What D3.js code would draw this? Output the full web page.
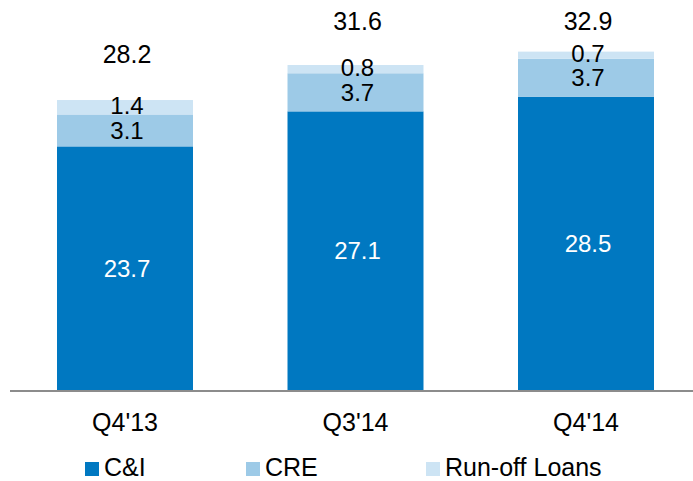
<!DOCTYPE html>
<html>
<head>
<meta charset="utf-8">
<script src="https://cdn.jsdelivr.net/npm/d3@7"></script>
<style>
  body { margin: 0; background: #fff; }
  text { font-family: Arial, "Liberation Sans", sans-serif; }
</style>
</head>
<body>
<div id="chart"></div>
<script>
var quarters = ["Q4'13", "Q3'14", "Q4'14"];
var seriesNames = ['C&I', 'CRE', 'Run-off Loans'];
var cni = [23.7, 27.1, 28.5];
var cre = [3.1, 3.7, 3.7];
var runoff = [1.4, 0.8, 0.7];
var totals = [28.2, 31.6, 32.9];

var width = 693, height = 481;
var colors = ['#0078c1', '#9dcae7', '#cde4f4'];

var svg = d3.select('#chart').append('svg')
  .attr('width', width)
  .attr('height', height);

var rows = quarters.map(function (q, i) {
  return { quarter: q, 'C&I': cni[i], 'CRE': cre[i], 'Run-off Loans': runoff[i], total: totals[i] };
});

var stack = d3.stack().keys(seriesNames)(rows);

var x = d3.scaleBand()
  .domain(quarters)
  .range([9.75, 701.25])
  .paddingInner(0.41)
  .paddingOuter(0.205);

var y = d3.scaleLinear()
  .domain([0, 35])
  .range([390.5, 30]);

var layer = svg.selectAll('.layer')
  .data(stack)
  .enter().append('g')
  .attr('class', 'layer')
  .attr('fill', function (d, i) { return colors[i]; });

layer.selectAll('rect')
  .data(function (d) { return d; })
  .enter().append('rect')
  .attr('x', function (d) { return x(d.data.quarter); })
  .attr('width', x.bandwidth())
  .attr('y', function (d) { return y(d[1]); })
  .attr('height', function (d) { return y(d[0]) - y(d[1]); });

// segment labels (the small run-off ones sit a touch higher)
layer.selectAll('text')
  .data(function (d, i) { return d.map(function (p) { return { p: p, s: i }; }); })
  .enter().append('text')
  .attr('x', function (d) { return x(d.p.data.quarter) + x.bandwidth() / 2 + 2; })
  .attr('y', function (d) { return (y(d.p[0]) + y(d.p[1])) / 2 - (d.s === 2 ? 2 : 0); })
  .attr('dy', '0.35em')
  .attr('text-anchor', 'middle')
  .attr('font-size', 24)
  .attr('fill', function (d) { return d.s === 0 ? '#fff' : '#000'; })
  .text(function (d) { return (d.p[1] - d.p[0]).toFixed(1); });

// totals
svg.selectAll('.total')
  .data(rows)
  .enter().append('text')
  .attr('class', 'total')
  .attr('x', function (d) { return x(d.quarter) + x.bandwidth() / 2 + 2; })
  .attr('y', function (d) { return Math.max(y(d.total) - 37, 30); })
  .attr('text-anchor', 'middle')
  .attr('font-size', 25)
  .attr('fill', '#000')
  .text(function (d) { return d.total.toFixed(1); });

// baseline
svg.append('line')
  .attr('x1', 10).attr('x2', width)
  .attr('y1', y(0) + 0.5).attr('y2', y(0) + 0.5)
  .attr('stroke', '#8c8c8c')
  .attr('stroke-width', 2);

// category axis
var xAxis = d3.axisBottom(x).tickSize(0).tickPadding(0);
var gx = svg.append('g')
  .attr('transform', 'translate(0,' + 431 + ')')
  .call(xAxis);
gx.select('.domain').remove();
gx.selectAll('text')
  .attr('dy', 0)
  .attr('font-size', 25)
  .attr('font-family', 'Arial, "Liberation Sans", sans-serif')
  .attr('fill', '#000');

// legend
var legendX = [85, 246, 426];
var legend = svg.selectAll('.legend')
  .data(seriesNames)
  .enter().append('g')
  .attr('class', 'legend')
  .attr('transform', function (d, i) { return 'translate(' + legendX[i] + ',462)'; });

legend.append('rect')
  .attr('width', 14)
  .attr('height', 14)
  .attr('fill', function (d, i) { return colors[i]; });

legend.append('text')
  .attr('x', 19)
  .attr('y', 14)
  .attr('font-size', 25)
  .attr('fill', '#000')
  .text(function (d) { return d; });
</script>
</body>
</html>
